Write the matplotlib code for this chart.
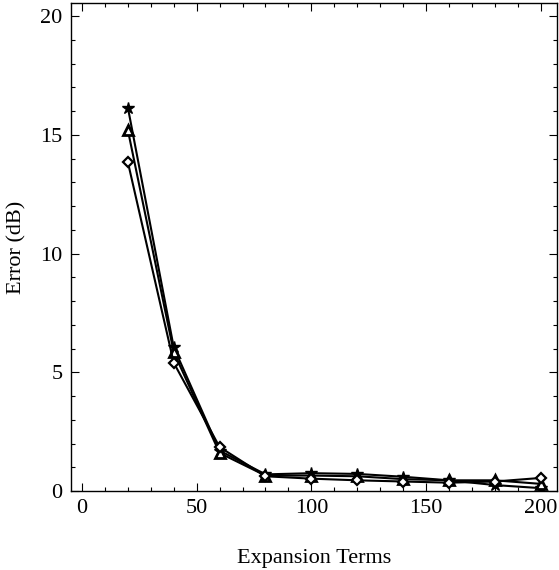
import matplotlib
import matplotlib.pyplot as plt
from matplotlib.ticker import MultipleLocator

matplotlib.use("Agg")

terms = [20, 40, 60, 80, 100, 120, 140, 160, 180, 200]
err_star = [16.15, 6.05, 1.70, 0.70, 0.75, 0.72, 0.60, 0.45, 0.25, 0.12]
err_triangle = [15.20, 5.85, 1.60, 0.65, 0.65, 0.62, 0.50, 0.45, 0.45, 0.30]
err_diamond = [13.85, 5.40, 1.85, 0.62, 0.52, 0.45, 0.40, 0.35, 0.40, 0.55]

plt.rcParams["font.family"] = ["Liberation Serif", "DejaVu Serif"]
plt.rcParams["font.size"] = 16

fig = plt.figure(figsize=(5.59, 5.70), dpi=100)
ax = fig.add_axes([0.127, 0.1386, 0.869, 0.856])

ax.plot(terms, err_star, color="black", lw=1.5, marker="*", ms=9, mfc="black", mec="black")
ax.plot(terms, err_triangle, color="black", lw=1.5, marker="^", ms=6.5, mfc="white", mec="black", mew=2)
ax.plot(terms, err_diamond, color="black", lw=1.5, marker="D", ms=5.5, mfc="white", mec="black", mew=1.6)

ax.set_xlim(-4.8, 207)
ax.set_ylim(0, 20.55)
ax.xaxis.set_major_locator(MultipleLocator(50))
ax.xaxis.set_minor_locator(MultipleLocator(10))
ax.yaxis.set_major_locator(MultipleLocator(5))
ax.yaxis.set_minor_locator(MultipleLocator(1))
ax.tick_params(which="both", direction="in", top=True, right=True, width=0.8)
ax.tick_params(which="major", length=6, pad=6)
ax.tick_params(which="minor", length=3)
for s in ax.spines.values():
    s.set_linewidth(1.0)

ax.set_xlabel("Expansion Terms", labelpad=22)
ax.set_ylabel("Error (dB)", labelpad=10)

fig.savefig("out.png", dpi=100)
